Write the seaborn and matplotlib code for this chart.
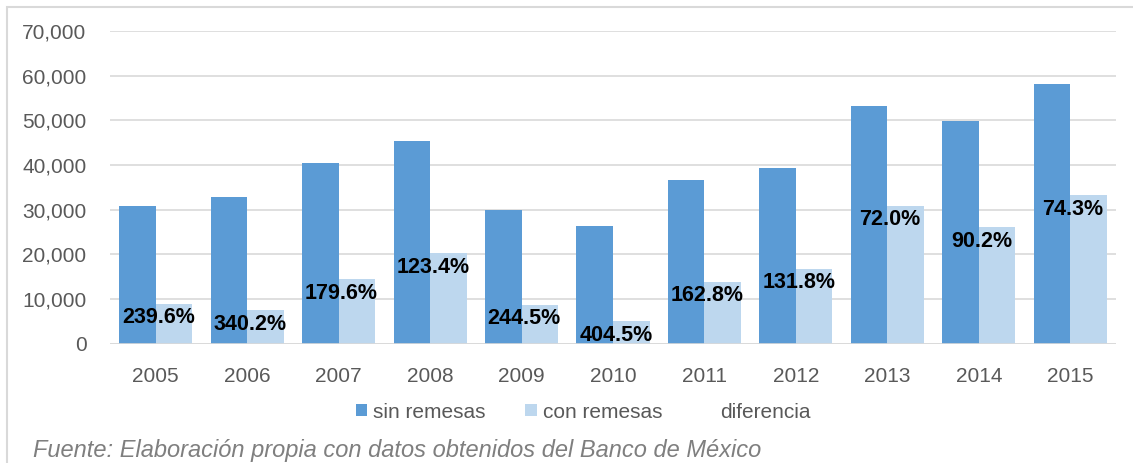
"""
Ingreso con y sin remesas, 2005-2015
barras agrupadas con etiqueta de diferencia
"""

import pandas as pd
import matplotlib
matplotlib.use('Agg')
import matplotlib.pyplot as plt
from matplotlib.patches import Patch, Rectangle
from matplotlib.lines import Line2D
import seaborn as sns

# datos
years = ['2005', '2006', '2007', '2008', '2009', '2010',
         '2011', '2012', '2013', '2014', '2015']
sin_remesas = [30700, 32900, 40400, 45400, 29900, 26400,
               36700, 39300, 53200, 49800, 58100]
con_remesas = [8900, 7400, 14400, 20200, 8600, 5000,
               13800, 16800, 30800, 26000, 33200]
diferencia = ['239.6%', '340.2%', '179.6%', '123.4%', '244.5%', '404.5%',
              '162.8%', '131.8%', '72.0%', '90.2%', '74.3%']
series = ['sin remesas', 'con remesas']
colores = ['#5B9BD5', '#BDD7EE']

df = pd.DataFrame({
    'year': years * 2,
    'serie': [series[0]] * len(years) + [series[1]] * len(years),
    'valor': sin_remesas + con_remesas,
})

sns.set_style('white')
plt.rcParams['font.family'] = ['Liberation Sans', 'DejaVu Sans']
TAM = 15

W, H = 1133, 463
fig = plt.figure(figsize=(W / 100, H / 100), dpi=100)
ax = fig.add_axes([110 / W, 1 - 343.5 / H, (1116 - 110) / W, (343.5 - 31) / H])

sns.barplot(data=df, x='year', y='valor', hue='serie', hue_order=series,
            palette=colores, width=0.8, gap=0, saturation=1, linewidth=0,
            legend=False, ax=ax, zorder=3)

ax.set_ylim(0, 70000)
ax.set_yticks(range(0, 70001, 10000))
ax.set_yticklabels([f'{v:,}' for v in range(0, 70001, 10000)])
ax.yaxis.grid(True, color='#D9D9D9', linewidth=1.2, zorder=0)
ax.set_axisbelow(True)
for s in ax.spines.values():
    s.set_visible(False)
ax.axhline(0, color='#D9D9D9', linewidth=1.2, zorder=4)
ax.set_xlabel('')
ax.set_ylabel('')
ax.tick_params(axis='both', length=0, labelsize=TAM, colors='#595959')
ax.tick_params(axis='y', pad=17)
ax.tick_params(axis='x', pad=17)

# etiquetas de diferencia, centradas en cada grupo
for i, (v, txt) in enumerate(zip(con_remesas, diferencia)):
    ax.annotate(txt, (i, v), xytext=(2, -10), textcoords='offset points',
                ha='center', va='center', fontsize=15.5, fontweight='bold',
                color='black', zorder=5)

handles = [Patch(facecolor=colores[0], edgecolor='none'),
           Patch(facecolor=colores[1], edgecolor='none'),
           Line2D([], [], color='none')]
fig.legend(handles, series + ['diferencia'], loc='center',
           bbox_to_anchor=(583 / W, 1 - 412 / H), ncol=3, frameon=False,
           fontsize=TAM, labelcolor='#595959', handlelength=0.55,
           handleheight=0.55, handletextpad=0.3, columnspacing=1.9)

# marco exterior
fig.patches.append(Rectangle((7 / W, -0.1), 1.2, 1.1 - 7 / H,
                             transform=fig.transFigure, fill=False,
                             edgecolor='#D9D9D9', linewidth=1.5))

fig.text(33 / W, 1 - 451 / H,
         'Fuente: Elaboración propia con datos obtenidos del Banco de México',
         fontsize=17, style='italic', color='#7F7F7F', va='center')

fig.savefig('out.png', dpi=100)
